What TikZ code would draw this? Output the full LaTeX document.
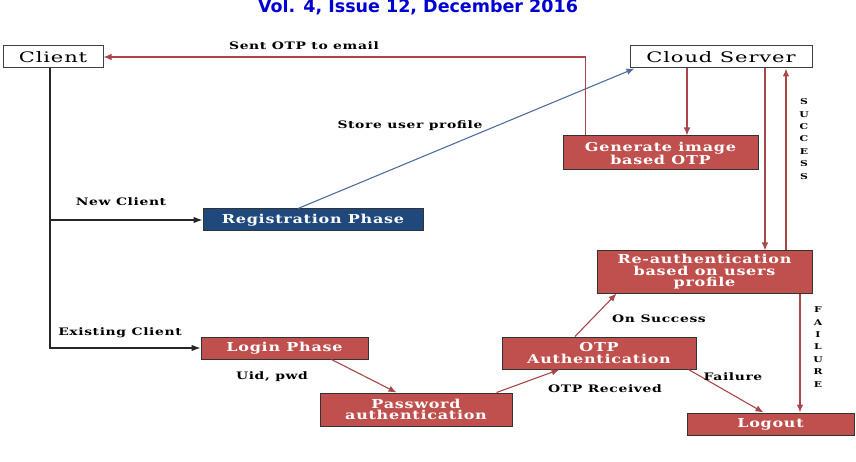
\documentclass[tikz,border=0pt]{standalone}
\usepackage{fontspec}
\usetikzlibrary{arrows.meta}
\newfontfamily\boxfont[FakeStretch=1.3,LetterSpace=6]{DejaVu Serif}
\newfontfamily\lblfont[FakeStretch=1.35,LetterSpace=6]{DejaVu Serif}
\newfontfamily\endfont[FakeStretch=1.45,LetterSpace=6]{DejaVu Serif}
\newfontfamily\headfont{DejaVu Sans}
\definecolor{boxred}{RGB}{192,80,77}
\definecolor{boxblue}{RGB}{31,73,125}
\definecolor{linered}{RGB}{168,70,72}
\definecolor{lineblue}{RGB}{80,110,160}
\definecolor{headblue}{RGB}{0,0,210}
\tikzset{
  endbox/.style={draw=black!75,line width=1pt,fill=white,inner sep=0pt,
    font=\endfont\fontsize{14.5}{14.5}\selectfont},
  redbox/.style={draw=black!80,line width=1pt,fill=boxred,text=white,inner sep=0pt,
    align=center,font=\boxfont\bfseries\fontsize{12.3}{11.5}\selectfont},
  bluebox/.style={redbox,fill=boxblue},
  lbl/.style={inner sep=0pt,font=\lblfont\bfseries\fontsize{10.3}{10.3}\selectfont},
  vlbl/.style={inner sep=0pt,align=center,font=\lblfont\bfseries\fontsize{8}{12.4}\selectfont},
  blk/.style={draw=black!85,line width=1.1pt,-{Latex[length=9pt,width=6.5pt]}},
  redl/.style={draw=linered,line width=1.1pt,-{Latex[length=8pt,width=6.5pt]}},
  bluel/.style={draw=lineblue,line width=1.1pt,-{Latex[length=8pt,width=6.5pt]}},
}
\begin{document}
\begin{tikzpicture}[x=1pt,y=-1pt]
\clip (0,0) rectangle (856,462);
\useasboundingbox (0,0) rectangle (856,462);
\node[anchor=base,text=headblue,font=\headfont\bfseries\fontsize{17.5}{17.5}\selectfont] (head) at (418,12.5) {Vol. 4, Issue 12, December 2016};

\node[endbox,minimum width=100pt,minimum height=22pt] (client) at (53,57) {Client};
\node[endbox,minimum width=182pt,minimum height=22pt] (cloud) at (721,57) {Cloud Server};
\node[bluebox,minimum width=220pt,minimum height=22pt] (reg) at (313,220) {Registration Phase};
\node[redbox,minimum width=195pt,minimum height=34pt] (gen) at (660.5,153) {Generate image\\based OTP};
\node[redbox,minimum width=215pt,minimum height=42pt] (reauth) at (704.5,272) {Re-authentication\\based on users\\profile};
\node[redbox,minimum width=167pt,minimum height=22pt] (login) at (284.5,348) {Login Phase};
\node[redbox,minimum width=192pt,minimum height=33pt] (pwd) at (416,409.5) {Password\\authentication};
\node[redbox,minimum width=194pt,minimum height=32pt] (otp) at (599,353) {OTP\\Authentication};
\node[redbox,minimum width=167pt,minimum height=22pt] (logout) at (770.5,424) {Logout};

% client branches
\draw[blk] ([xshift=-3pt]client.south) |- (login.west);
\draw[blk] ([xshift=-3pt]client.south |- reg.west) -- (reg.west);
% store user profile
\draw[bluel] ([xshift=-15pt]reg.north) -- ([xshift=5pt]cloud.south west);
% sent OTP
\draw[redl] ([xshift=23pt]gen.north west) |- (client.east);
% cloud to generate
\draw[redl] ([xshift=-34pt]cloud.south) -- ([xshift=-34pt]cloud.south |- gen.north);
% cloud to reauth and back
\draw[redl] ([xshift=44pt]cloud.south) -- ([xshift=44pt]cloud.south |- reauth.north);
\draw[redl] ([xshift=65pt]cloud.south |- reauth.north) -- ([xshift=65pt]cloud.south);
% failure
\draw[redl] ([xshift=95.5pt]reauth.south) -- ([xshift=95.5pt]reauth.south |- logout.north);
% flows
\draw[redl] ([xshift=-37pt]login.south east) -- ([xshift=77pt]pwd.north west);
\draw[redl] ([xshift=-16pt]pwd.north east) -- ([xshift=58pt]otp.south west);
\draw[redl] ([xshift=-24pt]otp.north) -- ([xshift=20pt]reauth.south west);
\draw[redl] ([xshift=-8pt]otp.south east) -- ([xshift=77pt]logout.north west);

% labels
\node[lbl] (l1) at (304,46) {Sent OTP to email};
\node[lbl] (l2) at (410,126) {Store user profile};
\node[lbl] (l3) at (121,202) {New Client};
\node[lbl] (l4) at (120,333) {Existing Client};
\node[lbl] (l5) at (272,377) {Uid, pwd};
\node[lbl] (l6) at (659,319) {On Success};
\node[lbl] (l7) at (733,377) {Failure};
\node[lbl] (l8) at (605,389) {OTP Received};
\node[vlbl] (l9) at (804,139) {S\\U\\C\\C\\E\\S\\S};
\node[vlbl] (l10) at (818,347) {F\\A\\I\\L\\U\\R\\E};
\end{tikzpicture}
\end{document}
